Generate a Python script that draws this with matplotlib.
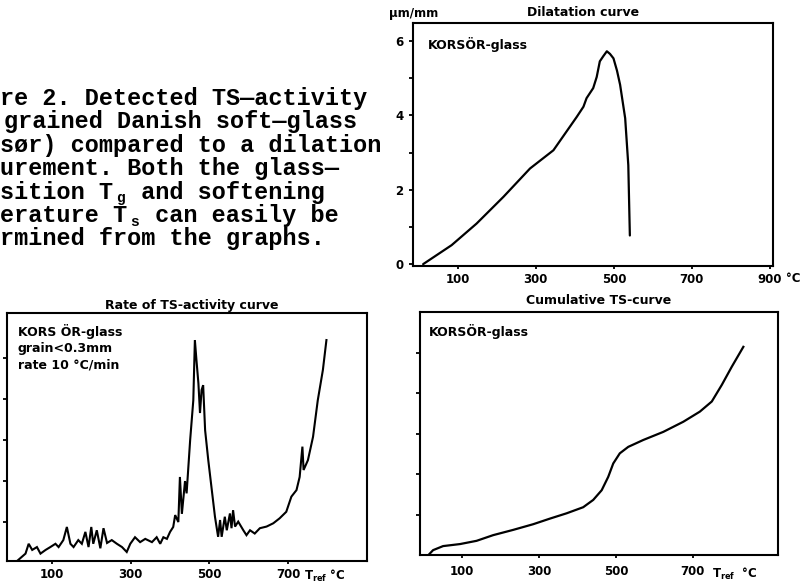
import matplotlib
matplotlib.use("Agg")
import matplotlib.pyplot as plt

# ---------------- data ----------------
# Dilatation curve: temperature (°C) vs elongation (µm/mm)
dil_T = [11, 84, 148, 217, 285, 345, 405, 422, 430, 447, 456, 464, 473, 482, 490, 499, 508, 516, 529, 537, 541]
dil_v = [0.0, 0.51, 1.09, 1.81, 2.57, 3.06, 3.96, 4.23, 4.46, 4.73, 5.03, 5.45, 5.59, 5.72, 5.65, 5.53, 5.2, 4.82, 3.92, 2.66, 0.77]

# Rate of TS-activity curve: T_ref (°C) vs rate (arbitrary units)
rate_T = [8, 33, 41, 50, 62, 71, 84, 96, 109, 117, 129, 138, 147, 155, 167, 176, 185, 193, 200, 205,
          214, 223, 231, 240, 252, 265, 278, 290, 299, 311, 324, 337, 354, 366, 375, 383, 392, 400, 408, 413,
          421, 425, 430, 438, 442, 451, 459, 463, 467, 472, 476, 480, 484, 489, 497, 505, 514, 522, 527, 531,
          539, 544, 552, 556, 560, 565, 573, 586, 594, 603, 615, 628, 645, 662, 678, 695, 708, 721, 729, 736,
          739, 750, 763, 775, 788, 797]
rate_v = [0.02, 0.23, 0.47, 0.32, 0.39, 0.23, 0.32, 0.39, 0.47, 0.39, 0.56, 0.88, 0.47, 0.39, 0.56, 0.47, 0.76, 0.39, 0.88, 0.47,
          0.80, 0.36, 0.85, 0.49, 0.56, 0.47, 0.39, 0.27, 0.47, 0.63, 0.51, 0.59, 0.51, 0.63, 0.47, 0.63, 0.59, 0.76, 0.88, 1.17,
          1.0, 2.1, 1.2, 2.0, 1.7, 3.0, 3.97, 5.44, 4.95, 4.38, 3.66, 4.22, 4.34, 3.24, 2.51, 1.86, 1.13, 0.64, 1.05, 0.64,
          1.13, 0.8, 1.21, 0.85, 1.29, 0.89, 1.01, 0.8, 0.68, 0.8, 0.72, 0.85, 0.89, 0.97, 1.09, 1.25, 1.62, 1.78, 2.1, 2.84,
          2.27, 2.51, 3.08, 3.97, 4.71, 5.44]

# Cumulative TS-curve: T_ref (°C) vs cumulative counts (arbitrary units)
cum_T = [13, 25, 51, 95, 138, 181, 233, 285, 329, 372, 415, 441, 463, 480, 493, 510, 532, 571, 623, 675, 718, 749, 775, 801, 831]
cum_v = [0.0, 0.12, 0.22, 0.27, 0.35, 0.49, 0.62, 0.76, 0.9, 1.03, 1.18, 1.36, 1.6, 1.93, 2.26, 2.51, 2.67, 2.84, 3.04, 3.29, 3.54, 3.79, 4.2, 4.65, 5.14]

temp_ticks = [100, 300, 500, 700]
dil_yticks = [0, 2, 4, 6]

# caption lines; each line is a list of (segment, is_subscript)
caption_lines = [
    [("re 2. Detected TS\u2014activity", False)],
    [("grained Danish soft\u2014glass", False)],
    [("s\u00f8r) compared to a dilation", False)],
    [("urement. Both the glass\u2014", False)],
    [("sition T", False), ("g", True), (" and softening", False)],
    [("erature T", False), ("s", True), (" can easily be", False)],
    [("rmined from the graphs.", False)],
]

# ---------------- figure ----------------
W, H = 808, 585
fig = plt.figure(figsize=(W / 100, H / 100), dpi=100)
fig.patch.set_facecolor("white")


def px(x, y):
    return x / W, 1 - y / H


def box(l, t, r, b):
    return [l / W, 1 - b / H, (r - l) / W, (b - t) / H]


SANS = dict(family="DejaVu Sans", fontweight="bold")
TICKFS = 8.5
LW = 1.6

# caption (typewriter, monospaced cells)
cap_fs = 16.9
cell = 14.1
cap_x0 = [0, 4, 0, 0, 0, 0, 0]
cap_base = [105, 128.4, 151.8, 175.2, 198.6, 222, 245.4]
for segs, x0, yb in zip(caption_lines, cap_x0, cap_base):
    col = 0
    for seg, sub in segs:
        if sub:
            fig.text(*px(x0 + col * cell + 3, yb + 3.5), seg, family="Liberation Mono",
                     fontweight="bold", fontsize=10.5, va="baseline", ha="left")
        else:
            fig.text(*px(x0 + col * cell, yb), seg, family="Liberation Mono",
                     fontweight="bold", fontsize=cap_fs, va="baseline", ha="left")
        col += len(seg)


def style(ax):
    for s in ax.spines.values():
        s.set_linewidth(1.5)
    ax.tick_params(direction="out", length=3, width=1.3, labelsize=TICKFS, pad=2)
    for lab in ax.get_xticklabels() + ax.get_yticklabels():
        lab.set_fontweight("bold")


# ---- Dilatation curve ----
axd = fig.add_axes(box(413, 23, 773, 266))
axd.plot(dil_T, dil_v, color="black", lw=LW, solid_capstyle="round")
axd.set_xlim(-15, 908)
axd.set_ylim(-0.05, 6.48)
axd.set_xticks(temp_ticks + [900])
axd.set_yticks(dil_yticks)
axd.set_yticks([1, 3, 5], minor=True)
axd.tick_params(axis="y", which="minor", direction="out", length=3, width=1.3)
style(axd)
axd.tick_params(axis="x", length=2, pad=3)
axd.tick_params(axis="y", pad=4)
axd.text(0.04, 0.91, "KORS\u00d6R-glass", transform=axd.transAxes, fontsize=9, va="center", ha="left", **SANS)
fig.text(*px(583, 13), "Dilatation curve", fontsize=9, ha="center", va="center", **SANS)
fig.text(*px(414, 13), "\u03bcm/mm", fontsize=8.5, ha="center", va="center", **SANS)
fig.text(*px(793, 278), "\u00b0C", fontsize=8.5, ha="center", va="center", **SANS)

# ---- Rate of TS-activity curve ----
axr = fig.add_axes(box(7, 313, 367, 561))
axr.plot(rate_T, rate_v, color="black", lw=1.5, solid_joinstyle="miter")
axr.set_xlim(-14, 900)
axr.set_ylim(0.05, 6.1)
axr.set_xticks(temp_ticks)
axr.set_yticks([1, 2, 3, 4, 5])
axr.set_yticklabels([])
style(axr)
axr.tick_params(axis="x", length=2, pad=3)
axr.text(0.03, 0.926, "KORS \u00d6R-glass", transform=axr.transAxes, fontsize=9, va="center", ha="left", **SANS)
axr.text(0.03, 0.855, "grain<0.3mm", transform=axr.transAxes, fontsize=9, va="center", ha="left", **SANS)
axr.text(0.03, 0.79, "rate 10 \u00b0C/min", transform=axr.transAxes, fontsize=9, va="center", ha="left", **SANS)
fig.text(*px(192, 305), "Rate of TS-activity curve", fontsize=9, ha="center", va="center", **SANS)
fig.text(*px(304, 576), r"$\mathbf{T}_{\mathbf{ref}}$ " + "\u00b0C",
         fontsize=8.5, ha="left", va="center", **SANS)

# ---- Cumulative TS-curve ----
axc = fig.add_axes(box(420, 312, 778, 555))
axc.plot(cum_T, cum_v, color="black", lw=LW)
axc.set_xlim(-9, 921)
axc.set_ylim(0, 6.0)
axc.set_xticks(temp_ticks)
axc.set_yticks([1, 2, 3, 4, 5])
axc.set_yticklabels([])
style(axc)
axc.tick_params(axis="x", length=2, pad=5)
axc.text(0.025, 0.92, "KORS\u00d6R-glass", transform=axc.transAxes, fontsize=9, va="center", ha="left", **SANS)
fig.text(*px(599, 300), "Cumulative TS-curve", fontsize=9, ha="center", va="center", **SANS)
fig.text(*px(712, 574), r"$\mathbf{T}_{\mathbf{ref}}$  " + "\u00b0C",
         fontsize=8.5, ha="left", va="center", **SANS)

fig.savefig("out.png", dpi=100, facecolor="white")
